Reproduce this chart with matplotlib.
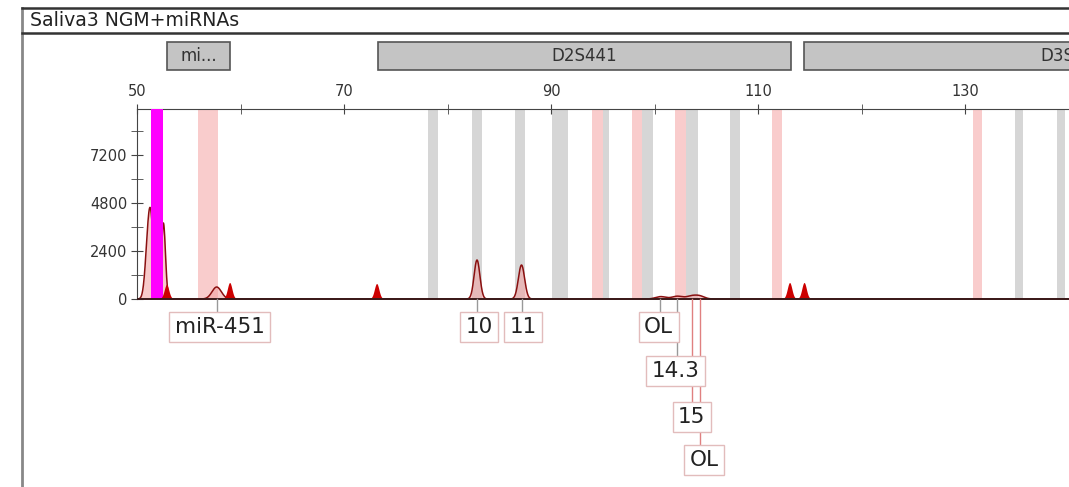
import numpy as np
import matplotlib
matplotlib.use("Agg")
import matplotlib.pyplot as plt
from matplotlib.patches import Rectangle
from matplotlib.lines import Line2D

W, H = 1069, 487

# --- datos ---
titulo = "Saliva3 NGM+miRNAs"

locus_nombres = ["mi...", "D2S441", "D3S1358"]
locus_inicio = [52.9, 73.3, 114.4]
locus_fin = [59.0, 113.2, 167.5]

bins_gris_ini = [78.1, 82.4, 86.5, 90.1, 95.0, 98.8, 103.0, 107.3, 134.8, 138.9]
bins_gris_fin = [79.1, 83.3, 87.5, 91.6, 95.6, 99.9, 104.2, 108.3, 135.6, 139.7]
bins_rosa_ini = [55.9, 94.0, 97.8, 102.0, 111.4, 130.8]
bins_rosa_fin = [57.8, 95.0, 98.8, 103.0, 112.3, 131.6]
bin_magenta = (51.35, 52.5)

# picos de la muestra (posicion, altura, ancho)
picos_pos = [50.95, 51.3, 52.55, 57.7, 82.85, 87.15, 100.6, 102.2, 103.6, 104.4]
picos_alt = [900, 4200, 3800, 600, 1950, 1700, 120, 140, 150, 130]
picos_sig = [0.25, 0.3, 0.2, 0.45, 0.28, 0.3, 0.5, 0.5, 0.5, 0.45]

# picos rojos rellenos (otro canal)
rojos_pos = [52.9, 59.0, 73.2, 113.1, 114.5]
rojos_alt = [700, 800, 750, 800, 800]

# etiquetas de alelos
alelos = ["miR-451", "10", "11", "OL", "14.3", "15", "OL"]
alelos_pos = [57.7, 82.85, 87.2, 100.5, 102.2, 103.6, 104.4]
alelos_texto_x = [58.0, 83.05, 87.3, 100.4, 102.0, 103.6, 104.8]
alelos_fila = [0, 0, 0, 0, 1, 2, 3]

filas_y = [-1400, -3600, -5900, -8050]


def fx(px):
    return px / W


def fy(py):
    return 1 - py / H


fig = plt.figure(figsize=(W / 100, H / 100), dpi=100)
fig.patch.set_facecolor("white")

# marco exterior y barra de titulo
fig.add_artist(Line2D([fx(22), fx(22)], [fy(8), fy(487)], color="#888888", lw=2))
fig.add_artist(Line2D([fx(22), 1], [fy(8), fy(8)], color="#333333", lw=1.8))
fig.add_artist(Line2D([fx(22), 1], [fy(33), fy(33)], color="#333333", lw=1.8))
fig.text(fx(30), fy(20.5), titulo, fontsize=13.6, va="center", ha="left", color="#222222")

# ejes
ax_left = fx(137)
ax_bottom = 0.0
ax_top = fy(109)
x0, x1 = 50, 145
px_por_unidad = 10.35
ancho = (x1 - x0) * px_por_unidad / W
ax = fig.add_axes([ax_left, ax_bottom, ancho, ax_top - ax_bottom])
ax.set_xlim(x0, x1)
ax.set_ylim(-9400, 9500)
ymax = 9500

# bins
for a, b in zip(bins_gris_ini, bins_gris_fin):
    ax.fill_between([a, b], 0, ymax, color="#d6d6d6", lw=0, zorder=1)
for a, b in zip(bins_rosa_ini, bins_rosa_fin):
    ax.fill_between([a, b], 0, ymax, color="#f9cccc", lw=0, zorder=1)

# traza
x = np.linspace(x0, x1, 6000)
y = np.zeros_like(x)
for p, h, s in zip(picos_pos, picos_alt, picos_sig):
    y += h * np.exp(-0.5 * ((x - p) / s) ** 2)
ax.fill_between(x, 0, y, color="#f4a0a0", alpha=0.55, lw=0, zorder=2)
ax.plot(x, y, color="#8a1010", lw=1.1, zorder=3)
ax.fill_between(list(bin_magenta), 0, ymax, color="#ff00ff", lw=0, zorder=3.5)

yr = np.zeros_like(x)
for p, h in zip(rojos_pos, rojos_alt):
    yr += h * np.exp(-0.5 * ((x - p) / 0.22) ** 2)
ax.fill_between(x, 0, yr, where=yr > 5, color="#cc0000", lw=0, zorder=4)
ax.plot([x0, x1], [0, 0], color="#3a1a1a", lw=1.4, zorder=5)

# etiquetas de alelos con conectores
for nombre, p, tx, fila in zip(alelos, alelos_pos, alelos_texto_x, alelos_fila):
    yy = filas_y[fila]
    col = "#999999" if fila < 2 else "#e08080"
    ax.plot([p, p], [0, yy], color=col, lw=1, zorder=6, clip_on=False)
    ax.text(tx, yy, nombre, fontsize=15.5, ha="center", va="center", color="#222222",
            zorder=7, clip_on=False,
            bbox=dict(boxstyle="square,pad=0.25", fc="white", ec="#e2bcbc", lw=1))

# cajas de locus
y_loc0 = (299 - 70) * 50
y_loc1 = (299 - 42) * 50
for nombre, a, b in zip(locus_nombres, locus_inicio, locus_fin):
    ax.add_patch(Rectangle((a, y_loc0), b - a, y_loc1 - y_loc0, fc="#c4c4c4",
                           ec="#555555", lw=1.2, clip_on=False, zorder=3))
    ax.text((a + b) / 2, (y_loc0 + y_loc1) / 2, nombre, fontsize=12, ha="center",
            va="center", color="#333333", clip_on=False, zorder=4)

# ejes y ticks
ax.spines["right"].set_visible(False)
ax.spines["bottom"].set_visible(False)
ax.spines["top"].set_color("#444444")
ax.spines["left"].set_color("#444444")
ax.spines["left"].set_bounds(0, ymax)

ax.set_xticks([50, 70, 90, 110, 130])
ax.set_xticks([60, 80, 100, 120, 140], minor=True)
ax.set_yticks([0, 2400, 4800, 7200])
ax.set_yticks([1200, 3600, 6000, 8400], minor=True)
ax.xaxis.tick_top()
ax.tick_params(axis="x", which="both", direction="inout", length=7, color="#444444",
               labelsize=10.5, labelcolor="#333333", pad=4)
ax.tick_params(axis="y", which="both", direction="inout", length=8, color="#444444",
               labelsize=10.5, labelcolor="#333333", pad=3)
ax.patch.set_alpha(0)

fig.savefig("out.png", dpi=100, facecolor="white")
